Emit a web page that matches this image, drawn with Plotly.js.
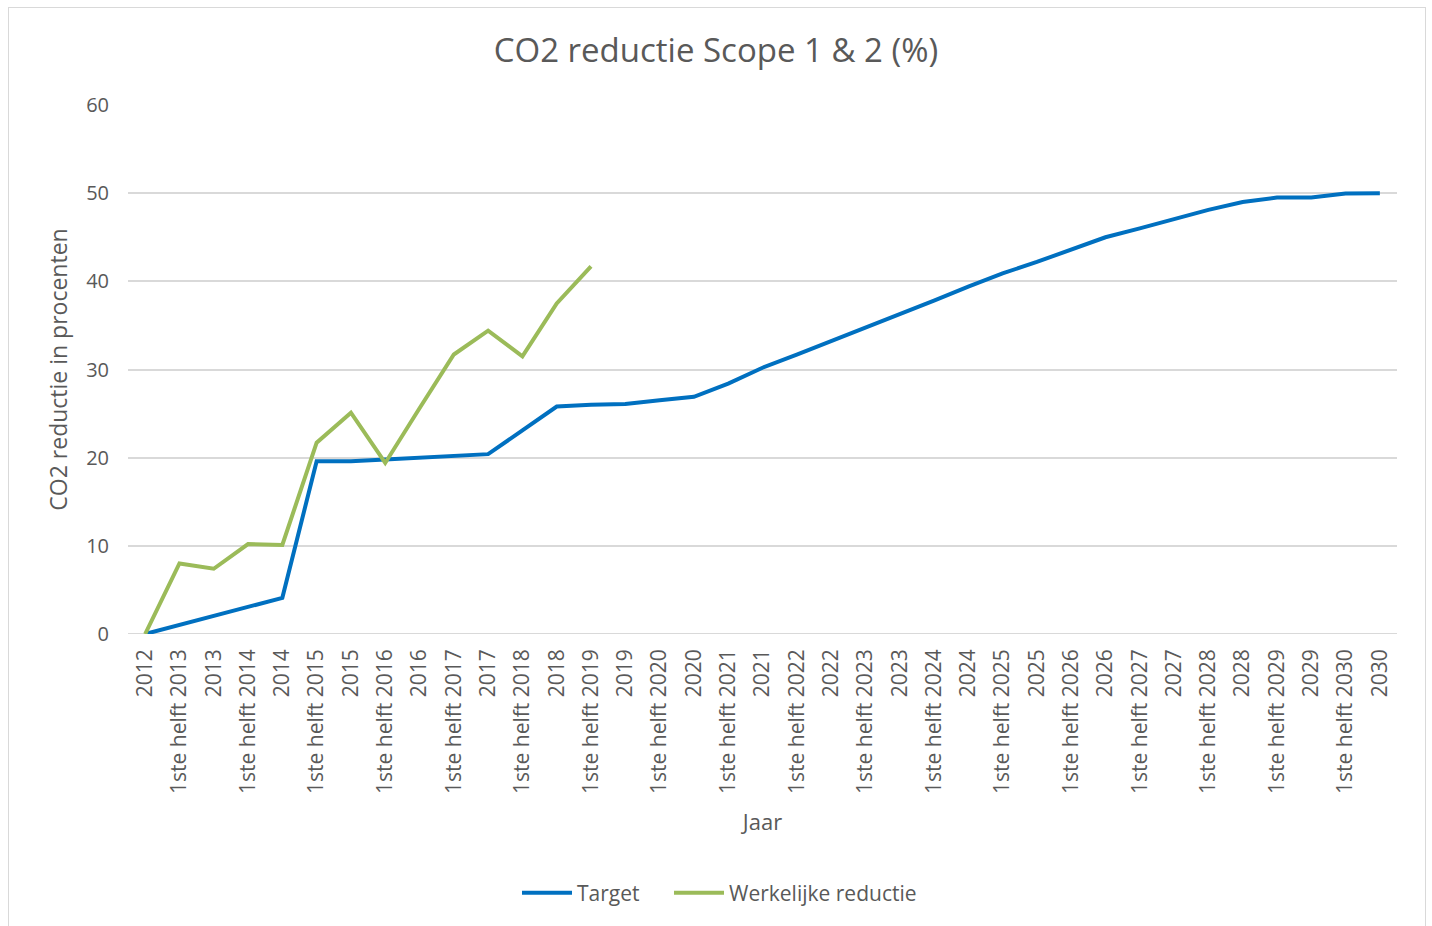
<!DOCTYPE html>
<html>
<head>
<meta charset="utf-8">
<script src="https://cdn.plot.ly/plotly-3.0.1.min.js"></script>
<style>
html,body{margin:0;padding:0;background:#fff;}
#frame{position:absolute;left:8px;top:7px;width:1418px;height:920px;border:1px solid #d9d9d9;box-sizing:border-box;}
#chart{position:absolute;left:0;top:0;width:1432px;height:926px;}
</style>
</head>
<body>
<div id="frame"></div>
<div id="chart"></div>
<script>
const categories = ["2012",
  "1ste helft 2013","2013","1ste helft 2014","2014","1ste helft 2015","2015",
  "1ste helft 2016","2016","1ste helft 2017","2017","1ste helft 2018","2018",
  "1ste helft 2019","2019","1ste helft 2020","2020","1ste helft 2021","2021",
  "1ste helft 2022","2022","1ste helft 2023","2023","1ste helft 2024","2024",
  "1ste helft 2025","2025","1ste helft 2026","2026","1ste helft 2027","2027",
  "1ste helft 2028","2028","1ste helft 2029","2029","1ste helft 2030","2030"];
const targetValues = [0, 1.0, 2.0, 3.1, 4.1, 19.6, 19.6, 19.8, 20.0, 20.2, 20.4, 23.1, 25.8,
  26.0, 26.1, 26.5, 26.9, 28.4, 30.2, 31.7, 33.2, 34.8, 36.3, 37.8, 39.4, 40.9, 42.2,
  43.6, 45.0, 46.0, 47.1, 48.1, 49.0, 49.5, 49.5, 49.95, 50.0];
const actualValues = [0, 8.0, 7.4, 10.2, 10.1, 21.7, 25.1, 19.4, 25.6, 31.7, 34.4, 31.5, 37.5, 41.7];
const yTicks = [0, 10, 20, 30, 40, 50, 60];

const txt = '#595959';
const fontFam = '"Open Sans", "Noto Sans", sans-serif';

const traces = [
  {x: categories, y: targetValues, type: 'scatter', mode: 'lines', name: 'Target',
   line: {color: '#0070C0', width: 4}, legend: 'legend'},
  {x: categories.slice(0, actualValues.length), y: actualValues, type: 'scatter', mode: 'lines',
   name: 'Werkelijke reductie', line: {color: '#9BBB59', width: 4}, legend: 'legend2'}
];

const legendBase = {orientation: 'h', xanchor: 'left', xref: 'container', y: 33/926, yref: 'container',
  yanchor: 'middle', font: {size: 21, color: txt}, itemwidth: 50, bgcolor: 'rgba(0,0,0,0)'};

const layout = {
  width: 1432, height: 926,
  paper_bgcolor: 'rgba(0,0,0,0)', plot_bgcolor: 'rgba(0,0,0,0)',
  margin: {l: 128, r: 35, t: 105, b: 292},
  font: {family: fontFam, color: txt, size: 20},
  title: {text: 'CO2 reductie Scope 1 &amp; 2 (%)', x: 0.5, xref: 'container', xanchor: 'center',
          y: 1 - 50/926, yref: 'container', yanchor: 'middle', font: {size: 33, color: txt, family: fontFam}},
  xaxis: {type: 'category', range: [-0.5, 36.5], tickangle: -90, showgrid: false,
          showline: false, zeroline: false, ticks: '', ticklabelstandoff: 10, tickfont: {size: 21, color: txt},
          title: {text: 'Jaar', font: {size: 22, color: txt}, standoff: 21},
          automargin: false},
  yaxis: {range: [0, 60], tickvals: yTicks, showgrid: true, gridcolor: '#d9d9d9', gridwidth: 2,
          zeroline: false, showline: false, ticks: '', ticklabelstandoff: 18, tickfont: {size: 20, color: txt},
          title: {text: 'CO2 reductie in procenten', font: {size: 23, color: txt}, standoff: 12},
          automargin: false},
  showlegend: true,
  legend: Object.assign({}, legendBase, {x: 517/1432}),
  legend2: Object.assign({}, legendBase, {x: 669/1432}),
  shapes: [{type: 'line', xref: 'paper', yref: 'y', x0: 0, x1: 1, y0: 0, y1: 0,
            line: {color: '#d9d9d9', width: 2}, layer: 'below'}]
};

Plotly.newPlot('chart', traces, layout, {displayModeBar: false, staticPlot: true});
</script>
</body>
</html>
